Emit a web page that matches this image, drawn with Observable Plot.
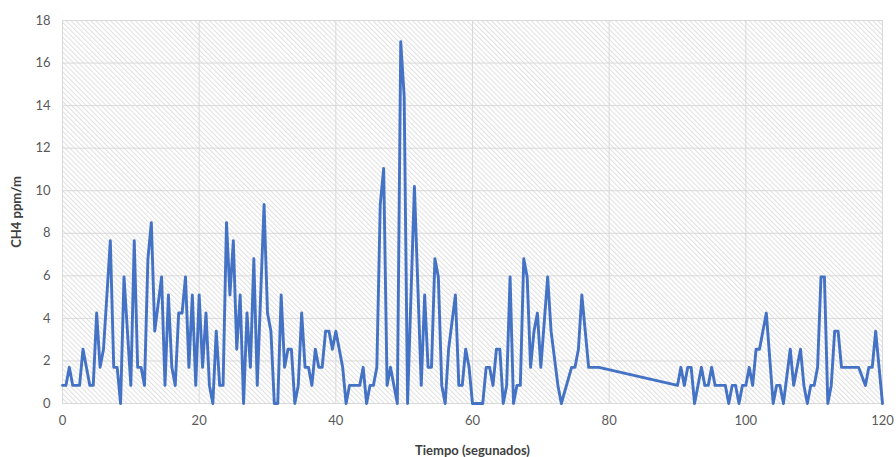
<!DOCTYPE html>
<html><head><meta charset="utf-8">
<script src="https://cdn.jsdelivr.net/npm/d3@7"></script>
<script src="https://cdn.jsdelivr.net/npm/@observablehq/plot@0.6"></script>
<style>body{margin:0;background:#fff}</style>
</head><body><div id="chart"></div>
<script>
const time = [0,0.5,1,1.5,2.5,3,4,4.5,5,5.5,6,7,7.5,8,8.5,9,10,10.5,11,11.5,12,12.5,13,13.5,14.5,15,15.5,16,16.5,17,17.5,18,18.5,19,19.5,20,20.5,21,21.5,22,22.5,23,23.5,24,24.5,25,25.5,26,26.5,27,27.5,28,28.5,29.5,30,30.5,31,31.5,32,32.5,33,33.5,34,34.5,35,35.5,36,36.5,37,37.5,38,38.5,39,39.5,40,41,41.5,42,43.5,44,44.5,45,45.5,46,46.5,47,47.5,48,48.5,49,49.5,50,50.5,51.5,52.5,53,53.5,54,54.5,55,55.5,56,56.5,57.5,58,58.5,59,59.5,60,61.5,62,62.5,63,63.5,64,64.5,65,65.5,66,66.5,67,67.5,68,68.5,69,69.5,70,71,71.5,72.5,73,74.5,75,75.5,76,76.5,77,78.5,90,90.5,91,91.5,92,92.5,93.5,94,94.5,95,95.5,97,97.5,98,98.5,99,99.5,100,100.5,101,101.5,102,103,104,104.5,105,105.5,106.5,107,108,108.5,109,109.5,110,110.5,111,111.5,112,112.5,113,113.5,114,116.5,117.5,118,118.5,119,119.5,120];
const ch4 = [0.85,0.85,1.7,0.85,0.85,2.55,0.85,0.85,4.25,1.7,2.55,7.65,1.7,1.7,0,5.95,0.85,7.65,1.7,1.7,0.85,6.8,8.5,3.4,5.95,0.85,5.1,1.7,0.85,4.25,4.25,5.95,1.7,5.1,0.85,5.1,1.7,4.25,0.85,0,3.4,0.85,0.85,8.5,5.1,7.65,2.55,5.1,0,4.25,1.7,6.8,0.85,9.35,4.25,3.4,0,0,5.1,1.7,2.55,2.55,0,0.85,4.25,1.7,1.7,0.85,2.55,1.7,1.7,3.4,3.4,2.55,3.4,1.7,0,0.85,0.85,1.7,0,0.85,0.85,1.7,9.35,11.05,0.85,1.7,0.85,0,17,14.45,0,10.2,0.85,5.1,1.7,1.7,6.8,5.95,0.85,0,2.55,5.1,0.85,0.85,2.55,1.7,0,0,1.7,1.7,0.85,2.55,2.55,0,0.85,5.95,0,0.85,0.85,6.8,5.95,1.7,3.4,4.25,1.7,5.95,3.4,0.85,0,1.7,1.7,2.55,5.1,3.4,1.7,1.7,0.85,1.7,0.85,1.7,1.7,0,1.7,0.85,0.85,1.7,0.85,0.85,0,0.85,0.85,0,0.85,0.85,1.7,0.85,2.55,2.55,4.25,0,0.85,0.85,0,2.55,0.85,2.55,0.85,0,0.85,0.85,1.7,5.95,5.95,0,0.85,3.4,3.4,1.7,1.7,0.85,1.7,1.7,3.4,1.7,0];
const xTicks = [0,20,40,60,80,100,120];
const yTicks = [0,2,4,6,8,10,12,14,16,18];
const xTitle = "Tiempo (segunados)";
const yTitle = "CH4 ppm/m";

const data = time.map((t, i) => ({t, v: ch4[i]}));

const chart = Plot.plot({
  width: 896, height: 457,
  marginLeft: 62, marginRight: 14, marginTop: 20, marginBottom: 54,
  style: {fontFamily: "Lato, 'Open Sans', sans-serif", fontSize: "13px", color: "#595959", background: "#fff"},
  x: {domain: [0, 120]},
  y: {domain: [0, 18]},
  marks: [
    Plot.frame({fill: "url(#hatch)", stroke: "none"}),
    Plot.gridY(yTicks, {stroke: "#d9d9d9", strokeOpacity: 1}),
    Plot.gridX(xTicks, {stroke: "#d9d9d9", strokeOpacity: 1}),
    Plot.axisY(yTicks, {tickSize: 0, tickPadding: 12, label: yTitle, labelAnchor: "center", labelArrow: "none", labelOffset: 51}),
    Plot.axisX(xTicks, {tickSize: 0, tickPadding: 12, label: xTitle, labelAnchor: "center", labelArrow: "none", labelOffset: 51}),
    Plot.line(data, {x: "t", y: "v", stroke: "#4472C4", strokeWidth: 2.9, strokeLinejoin: "round"})
  ]
});

const svg = d3.select(chart);
const defs = svg.insert("defs", ":first-child");
const p = defs.append("pattern").attr("id", "hatch").attr("patternUnits", "userSpaceOnUse")
  .attr("width", 3.5).attr("height", 3.5).attr("patternTransform", "rotate(-45)");
p.append("rect").attr("width", 3.5).attr("height", 3.5).attr("fill", "#ffffff");
p.append("line").attr("x1", 0.5).attr("y1", 0).attr("x2", 0.5).attr("y2", 3.5).attr("stroke", "#e0e0e0").attr("stroke-width", 1);
svg.selectAll('g[aria-label="y-axis label"] text, g[aria-label="x-axis label"] text')
  .style("font-weight", "bold").style("fill", "#404040").style("font-size", "13px");
document.getElementById("chart").appendChild(chart);
</script>
</body></html>
